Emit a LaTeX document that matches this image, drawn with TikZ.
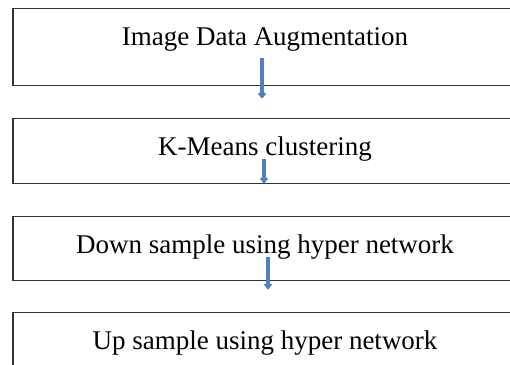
\documentclass[tikz,border=0pt]{standalone}
\usepackage{fontspec}
\setmainfont{Liberation Serif}
\usetikzlibrary{arrows.meta}
\definecolor{flowblue}{RGB}{79,129,189}
\tikzset{
    stage/.style={draw=black!80, line width=1.4pt, minimum width=504pt, inner sep=0pt,
        text height=37pt, font=\fontsize{27}{30}\selectfont, anchor=north},
    flow/.style={draw=flowblue, line width=4.2pt, -{Triangle[width=9pt,length=6pt,round]}}
}
\begin{document}
\begin{tikzpicture}[x=1pt,y=-1pt]
    \useasboundingbox (0,0) rectangle (510,364);
    \clip (0,0) rectangle (510,364);
    \node[stage, text depth=40pt] (s1) at (265,8) {Image Data Augmentation};
    \node[stage, text depth=28pt] (s2) at (265,118) {K-Means clustering};
    \node[stage, text depth=27pt] (s3) at (265,216) {Down sample using hyper network};
    \node[stage, text depth=27pt] (s4) at (265,312) {Up sample using hyper network};
    \coordinate (t1) at ([xshift=-3pt,yshift=28pt]s1.south);
    \coordinate (h1) at ([xshift=-3pt,yshift=-12pt]s1.south);
    \coordinate (t2) at ([xshift=-1pt,yshift=25pt]s2.south);
    \coordinate (h2) at ([xshift=-1pt,yshift=1pt]s2.south);
    \coordinate (t3) at ([xshift=3pt,yshift=24pt]s3.south);
    \coordinate (h3) at ([xshift=3pt,yshift=-8pt]s3.south);
    \draw[flow] (t1) -- (h1);
    \draw[flow] (t2) -- (h2);
    \draw[flow] (t3) -- (h3);
\end{tikzpicture}
\end{document}
